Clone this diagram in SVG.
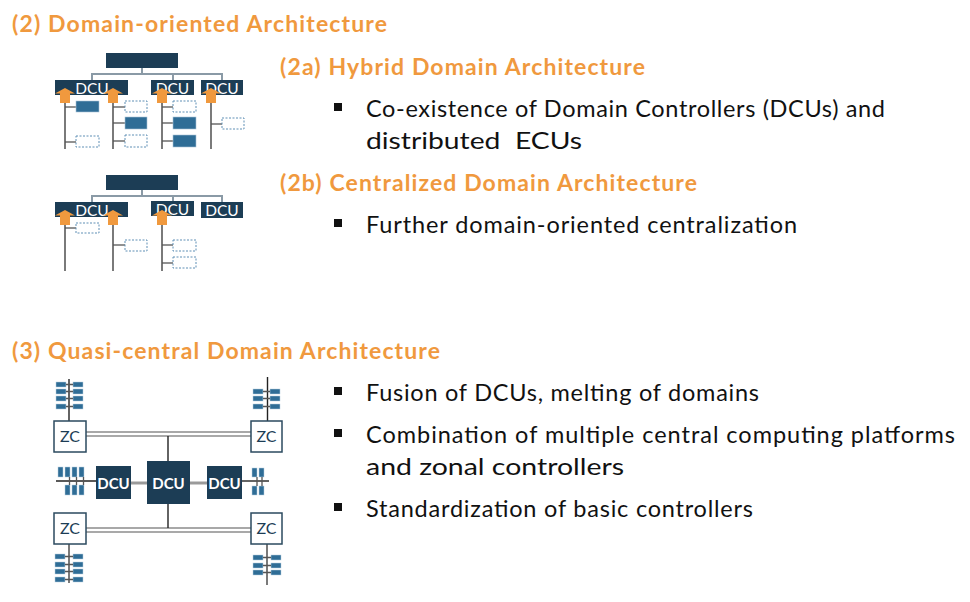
<svg xmlns="http://www.w3.org/2000/svg" xmlns:xlink="http://www.w3.org/1999/xlink" width="970" height="602" viewBox="0 0 970 602">
<style>
.title{font-family:Lato,"Liberation Sans",sans-serif;font-weight:bold;font-size:23px;fill:#f0993e}
.body{font-family:Lato,"Liberation Sans",sans-serif;font-size:23.5px;fill:#111}
.bul{fill:#111}
.navy{fill:#1c3d55}
.dcut{font-family:Lato,"Liberation Sans",sans-serif;font-size:15.5px;fill:#fff;text-anchor:middle}
.dcub{font-family:Lato,"Liberation Sans",sans-serif;font-size:15px;font-weight:bold;fill:#fff;text-anchor:middle}
.zct{font-family:Lato,"Liberation Sans",sans-serif;font-size:16px;fill:#1c3d55;text-anchor:middle}
.fill{fill:#2f6d96;stroke:#a9c4d8;stroke-width:0.6}
.dash{fill:#fff;stroke:#5f8fb5;stroke-width:1;stroke-dasharray:2 1.5}
.zc{fill:#fff;stroke:#2b4a5f;stroke-width:1.5}
.ecu{fill:#2f6d96;stroke:#b7cfe0;stroke-width:0.5}
.hier{fill:none;stroke:#8a9aa6;stroke-width:2}
.vg{stroke:#7a7a7a;stroke-width:2}
.vd{stroke:#333;stroke-width:1.3}
.tk{stroke:#555;stroke-width:1.3}
.bus1{stroke:#a8a8a8;stroke-width:2}
.bus2{stroke:#555;stroke-width:1.2}
.link{stroke:#9a9a9a;stroke-width:3}
.blk{stroke:#222;stroke-width:1.4}
</style>
<defs>
<path id="arr" d="M0,0 L10,5.5 L5,5.5 L5,15 L-5,15 L-5,5.5 L-10,5.5 Z" fill="#f0993e"/>
</defs>
<rect width="970" height="602" fill="#fff"/>

<!-- Texts -->
<g id="texts">
<text class="title" x="12" y="32" textLength="375">(2) Domain-oriented Architecture</text>
<text class="title" x="280" y="75" textLength="365">(2a) Hybrid Domain Architecture</text>
<rect class="bul" x="334" y="103" width="8" height="8"/>
<text class="body" x="366" y="117" textLength="519">Co-existence of Domain Controllers (DCUs) and</text>
<text class="body" x="366" y="149" textLength="216" lengthAdjust="spacingAndGlyphs" xml:space="preserve">distributed  ECUs</text>
<text class="title" x="280" y="191" textLength="417">(2b) Centralized Domain Architecture</text>
<rect class="bul" x="334" y="219" width="8" height="8"/>
<text class="body" x="366" y="233" textLength="431">Further domain-oriented centralization</text>
<text class="title" x="12" y="359" textLength="428">(3) Quasi-central Domain Architecture</text>
<rect class="bul" x="334" y="387" width="8" height="8"/>
<text class="body" x="366" y="401" textLength="393">Fusion of DCUs, melting of domains</text>
<rect class="bul" x="334" y="429" width="8" height="8"/>
<text class="body" x="366" y="443" textLength="589">Combination of multiple central computing platforms</text>
<text class="body" x="366" y="475" textLength="258" lengthAdjust="spacingAndGlyphs">and zonal controllers</text>
<rect class="bul" x="334" y="503" width="8" height="8"/>
<text class="body" x="366" y="517" textLength="387">Standardization of basic controllers</text>
</g>

<!-- Connectors -->
<g id="connectors">
<!-- 2a hierarchy -->
<path class="hier" d="M142,68 V74 M92,80 V74 H222 V80 M173,74 V80"/>
<line class="vg" x1="65" y1="103" x2="65" y2="149"/>
<line class="vg" x1="113" y1="103" x2="113" y2="149"/>
<line class="vg" x1="162" y1="103" x2="162" y2="149"/>
<line class="vd" x1="211" y1="103" x2="211" y2="149"/>
<line class="tk" x1="65" y1="107" x2="76" y2="107"/>
<line class="tk" x1="65" y1="142" x2="76" y2="142"/>
<line class="tk" x1="113" y1="107" x2="125" y2="107"/>
<line class="tk" x1="113" y1="123" x2="125" y2="123"/>
<line class="tk" x1="113" y1="141" x2="125" y2="141"/>
<line class="tk" x1="162" y1="107" x2="173" y2="107"/>
<line class="tk" x1="162" y1="123" x2="173" y2="123"/>
<line class="tk" x1="162" y1="141" x2="173" y2="141"/>
<line class="tk" x1="211" y1="124" x2="222" y2="124"/>
<!-- 2b hierarchy -->
<path class="hier" d="M142,190 V196 M92,202 V196 H222 V202 M173,196 V201"/>
<line class="vg" x1="65" y1="225" x2="65" y2="271"/>
<line class="vg" x1="113" y1="225" x2="113" y2="271"/>
<line class="vg" x1="162" y1="225" x2="162" y2="271"/>
<line class="tk" x1="65" y1="228" x2="76" y2="228"/>
<line class="tk" x1="113" y1="245" x2="125" y2="245"/>
<line class="tk" x1="162" y1="245" x2="173" y2="245"/>
<line class="tk" x1="162" y1="263" x2="173" y2="263"/>
<!-- quasi-central -->
<line class="bus1" x1="86" y1="432" x2="251" y2="432"/>
<line class="bus2" x1="86" y1="436" x2="251" y2="436"/>
<line class="blk" x1="168" y1="436" x2="168" y2="461"/>
<line class="bus1" x1="86" y1="528" x2="251" y2="528"/>
<line class="bus2" x1="86" y1="532" x2="251" y2="532"/>
<line class="blk" x1="168" y1="504" x2="168" y2="528"/>
<line class="link" x1="131" y1="483" x2="147" y2="483"/>
<line class="link" x1="190" y1="483" x2="207" y2="483"/>
<line class="blk" x1="69" y1="379" x2="69" y2="421"/>
<line class="blk" x1="267.5" y1="377" x2="267.5" y2="421"/>
<line class="vg" x1="69" y1="544" x2="69" y2="583"/>
<line class="vg" x1="267" y1="544" x2="267" y2="585"/>
<line class="blk" x1="56" y1="481" x2="96" y2="481"/>
<line class="blk" x1="242" y1="481" x2="269" y2="481"/>
</g>

<!-- 2a nodes -->
<g id="n2a-top"><rect class="navy" x="106" y="53" width="72" height="15"/></g>
<g id="n2a-dcu1"><rect class="navy" x="55" y="80" width="73" height="15"/><text class="dcut" x="92" y="94">DCU</text></g>
<g id="n2a-dcu2"><rect class="navy" x="151" y="80" width="43" height="15"/><text class="dcut" x="172.5" y="94">DCU</text></g>
<g id="n2a-dcu3"><rect class="navy" x="201" y="80" width="42" height="15"/><text class="dcut" x="222" y="94">DCU</text></g>
<g id="n2a-arrows">
<use xlink:href="#arr" x="65" y="88"/><use xlink:href="#arr" x="113" y="88"/><use xlink:href="#arr" x="162" y="88"/><use xlink:href="#arr" x="211" y="88"/>
</g>
<g id="n2a-ecus">
<rect class="fill" x="76" y="101" width="23" height="11"/>
<rect class="dash" x="76" y="136" width="23" height="11"/>
<rect class="dash" x="125" y="101" width="22" height="11"/>
<rect class="fill" x="125" y="117" width="22" height="12"/>
<rect class="dash" x="125" y="135" width="22" height="12"/>
<rect class="dash" x="173" y="101" width="23" height="11"/>
<rect class="fill" x="173" y="117" width="23" height="12"/>
<rect class="fill" x="173" y="135" width="23" height="12"/>
<rect class="dash" x="222" y="118" width="22" height="11"/>
</g>

<!-- 2b nodes -->
<g id="n2b-top"><rect class="navy" x="106" y="175" width="72" height="15"/></g>
<g id="n2b-dcu1"><rect class="navy" x="55" y="202" width="73" height="15"/><text class="dcut" x="92" y="216">DCU</text></g>
<g id="n2b-dcu2"><rect class="navy" x="151" y="201" width="43" height="15"/><text class="dcut" x="172.5" y="215">DCU</text></g>
<g id="n2b-dcu3"><rect class="navy" x="201" y="202" width="42" height="16"/><text class="dcut" x="222" y="216">DCU</text></g>
<g id="n2b-arrows">
<use xlink:href="#arr" x="65" y="210"/><use xlink:href="#arr" x="113" y="210"/><use xlink:href="#arr" x="162" y="210"/>
</g>
<g id="n2b-ecus">
<rect class="dash" x="76" y="223" width="23" height="10"/>
<rect class="dash" x="125" y="240" width="22" height="11"/>
<rect class="dash" x="173" y="240" width="23" height="11"/>
<rect class="dash" x="173" y="257" width="23" height="11"/>
</g>

<!-- 3 nodes -->
<g id="zc-tl"><rect class="zc" x="54" y="421" width="32" height="31"/><text class="zct" x="70" y="442">ZC</text></g>
<g id="zc-tr"><rect class="zc" x="251" y="421" width="31" height="31"/><text class="zct" x="266.5" y="442">ZC</text></g>
<g id="zc-bl"><rect class="zc" x="54" y="513" width="32" height="31"/><text class="zct" x="70" y="534">ZC</text></g>
<g id="zc-br"><rect class="zc" x="251" y="513" width="31" height="31"/><text class="zct" x="266.5" y="534">ZC</text></g>
<g id="dcu-c"><rect class="navy" x="147" y="461" width="43" height="43"/><text class="dcub" x="168.5" y="489">DCU</text></g>
<g id="dcu-l"><rect class="navy" x="96" y="466" width="35" height="33"/><text class="dcub" x="113.5" y="489">DCU</text></g>
<g id="dcu-r"><rect class="navy" x="207" y="466" width="35" height="33"/><text class="dcub" x="224.5" y="489">DCU</text></g>

<g id="ecus-tl">
<rect class="ecu" x="56" y="382" width="10" height="5"/><rect class="ecu" x="73" y="382" width="10" height="5"/>
<rect class="ecu" x="56" y="389" width="10" height="5"/><rect class="ecu" x="73" y="389" width="10" height="5"/>
<rect class="ecu" x="56" y="396" width="10" height="5"/><rect class="ecu" x="73" y="396" width="10" height="5"/>
<rect class="ecu" x="56" y="404" width="10" height="5"/><rect class="ecu" x="73" y="404" width="10" height="5"/>
<path class="tk" d="M66,384.5 H73 M66,391.5 H73 M66,398.5 H73 M66,406.5 H73"/>
</g>
<g id="ecus-tr">
<rect class="ecu" x="253" y="389" width="10" height="5"/><rect class="ecu" x="270" y="389" width="10" height="5"/>
<rect class="ecu" x="253" y="396" width="10" height="5"/><rect class="ecu" x="270" y="396" width="10" height="5"/>
<rect class="ecu" x="253" y="404" width="10" height="5"/><rect class="ecu" x="270" y="404" width="10" height="5"/>
<path class="tk" d="M263,391.5 H270 M263,398.5 H270 M263,406.5 H270"/>
</g>
<g id="ecus-bl">
<rect class="ecu" x="55" y="554" width="10" height="5"/><rect class="ecu" x="73" y="554" width="10" height="5"/>
<rect class="ecu" x="55" y="562" width="10" height="5"/><rect class="ecu" x="73" y="562" width="10" height="5"/>
<rect class="ecu" x="55" y="569" width="10" height="5"/><rect class="ecu" x="73" y="569" width="10" height="5"/>
<rect class="ecu" x="55" y="577" width="10" height="5"/><rect class="ecu" x="73" y="577" width="10" height="5"/>
<path class="tk" d="M65,556.5 H73 M65,564.5 H73 M65,571.5 H73 M65,579.5 H73"/>
</g>
<g id="ecus-br">
<rect class="ecu" x="253" y="555" width="10" height="5"/><rect class="ecu" x="271" y="555" width="10" height="5"/>
<rect class="ecu" x="253" y="563" width="10" height="5"/><rect class="ecu" x="271" y="563" width="10" height="5"/>
<rect class="ecu" x="253" y="570" width="10" height="5"/><rect class="ecu" x="271" y="570" width="10" height="5"/>
<path class="tk" d="M263,557.5 H271 M263,565.5 H271 M263,572.5 H271"/>
</g>
<g id="ecus-l">
<rect class="ecu" x="58" y="467" width="5" height="10"/><rect class="ecu" x="65" y="467" width="5" height="10"/>
<rect class="ecu" x="72" y="467" width="5" height="10"/><rect class="ecu" x="79" y="467" width="5" height="10"/>
<rect class="ecu" x="65" y="485" width="5" height="10"/><rect class="ecu" x="72" y="485" width="5" height="10"/>
<rect class="ecu" x="79" y="485" width="5" height="10"/>
<path class="tk" d="M69.5,477 V485 M76.5,477 V485 M83.5,477 V485"/>
</g>
<g id="ecus-r">
<rect class="ecu" x="252" y="468" width="5" height="9"/><rect class="ecu" x="259" y="468" width="5" height="9"/>
<rect class="ecu" x="252" y="486" width="5" height="9"/><rect class="ecu" x="259" y="486" width="5" height="9"/>
<path class="tk" d="M257,477 V486 M262,477 V486"/>
</g>
</svg>
